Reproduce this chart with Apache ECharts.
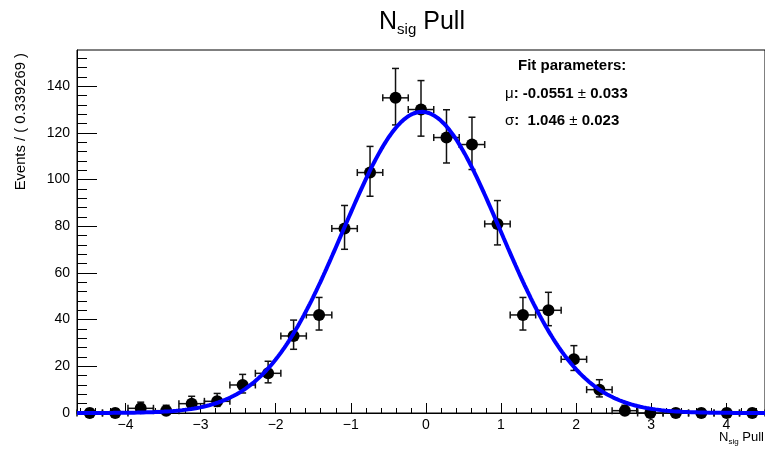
<!DOCTYPE html>
<html><head><meta charset="utf-8">
<script src="https://cdn.jsdelivr.net/npm/echarts@6/dist/echarts.min.js"></script>
<style>html,body{margin:0;padding:0;background:#fff}#c{width:765px;height:450px}</style>
</head><body><div id="c"></div>
<script>
// ---- data ----
const binWidth = 0.339269;
const binCenters = [-4.4754,-4.1362,-3.7969,-3.4576,-3.1184,-2.7791,-2.4398,-2.1006,-1.7613,-1.4220,-1.0828,-0.7435,-0.4042,-0.0650,0.2743,0.6136,0.9528,1.2921,1.6314,1.9706,2.3099,2.6492,2.9884,3.3277,3.6670,4.0062,4.3455];
const counts    = [0,0,2,1,4,5,12,17,33,42,79,103,135,130,118,115,81,42,44,23,10,1,0,0,0,0,0];
const errLow    = [0,0,1.29,0.83,1.91,2.16,3.42,4.08,5.71,6.46,8.87,10.15,11.6,11.4,10.9,10.7,9.0,6.46,6.6,4.77,3.11,0.83,0,0,0,0,0];
const errHigh   = [1.84,1.84,2.64,2.30,3.16,3.38,4.54,5.16,6.8,7.5,9.9,11.2,12.6,12.4,11.9,11.7,10.0,7.5,7.7,5.86,4.26,2.30,1.84,1.84,1.84,1.84,1.84];
// fit parameters (shown in the chart)
const fitMu = -0.0551, fitSigma = 1.046, fitEvents = 997;
const xRange = [-4.645, 4.515];
const yRange = [0, 155.5];
const xMajorTicks = [-4,-3,-2,-1,0,1,2,3,4];
const yMajorTicks = [0,20,40,60,80,100,120,140];
const titleParts = ['N','sig',' Pull'];
const yTitle = 'Events / ( 0.339269 )';
const fitLines = ['Fit parameters:', ['\u03bc', ': -0.0551 ', '\u00b1', ' 0.033'], ['\u03c3', ':  1.046 ', '\u00b1', ' 0.023']];

// ---- derived ----
const xMinor = [];
for (let k = -23; k <= 22; k++) { if (k % 5 !== 0) xMinor.push(+(k * 0.2).toFixed(2)); }
const yMinor = [];
for (let v = 0; v <= 152; v += 4) { if (v % 20 !== 0) yMinor.push(v); }

const points = binCenters.map((x, i) => [x, counts[i]]);
const errData = binCenters.map((x, i) => [x, counts[i], counts[i] - errLow[i], counts[i] + errHigh[i]]);
const curve = [];
for (let x = xRange[0]; x <= xRange[1] + 1e-9; x += 0.02) {
  const z = (x - fitMu) / fitSigma;
  curve.push([x, fitEvents * binWidth / (fitSigma * Math.sqrt(2 * Math.PI)) * Math.exp(-0.5 * z * z)]);
}

const FONT = 'Liberation Sans, Arial, Helvetica, sans-serif';
const chart = echarts.init(document.getElementById('c'), null, {renderer: 'canvas'});
const minusFmt = v => String(v).replace('-', '\u2212');

chart.setOption({
  animation: false,
  backgroundColor: '#fff',
  grid: {left: 77, top: 50, right: -1, bottom: 37, show: true, borderColor: '#000', borderWidth: 1, backgroundColor: 'transparent'},
  xAxis: [
    {type: 'value', min: xRange[0], max: xRange[1], position: 'bottom',
     axisLine: {onZero: false, lineStyle: {color: '#000', width: 1}},
     axisTick: {inside: true, length: 10, customValues: xMajorTicks, lineStyle: {color: '#000'}},
     axisLabel: {customValues: xMajorTicks, color: '#000', fontSize: 14, fontFamily: FONT, margin: 5, formatter: minusFmt},
     splitLine: {show: false}},
    {type: 'value', min: xRange[0], max: xRange[1], position: 'bottom',
     axisLine: {show: false, onZero: false},
     axisTick: {inside: true, length: 5, customValues: xMinor, lineStyle: {color: '#000'}},
     axisLabel: {show: false}, splitLine: {show: false}}
  ],
  yAxis: [
    {type: 'value', min: yRange[0], max: yRange[1], position: 'left',
     axisLine: {show: true, onZero: false, lineStyle: {color: '#000', width: 1}},
     axisTick: {show: true, inside: true, length: 20, customValues: yMajorTicks, lineStyle: {color: '#000'}},
     axisLabel: {customValues: yMajorTicks, color: '#000', fontSize: 14, fontFamily: FONT, margin: 7},
     splitLine: {show: false}},
    {type: 'value', min: yRange[0], max: yRange[1], position: 'left',
     axisLine: {show: false, onZero: false},
     axisTick: {show: true, inside: true, length: 10, customValues: yMinor, lineStyle: {color: '#000'}},
     axisLabel: {show: false}, splitLine: {show: false}}
  ],
  series: [
    {type: 'custom', xAxisIndex: 0, yAxisIndex: 0, data: errData, z: 2,
     renderItem: function (params, api) {
       const x = api.value(0), y = api.value(1), lo = api.value(2), hi = api.value(3);
       const c = api.coord([x, y]);
       const pLo = api.coord([x, lo]), pHi = api.coord([x, hi]);
       const pL = api.coord([x - binWidth / 2, y]), pR = api.coord([x + binWidth / 2, y]);
       const st = {stroke: '#111', lineWidth: 1.5};
       const cap = 3.5;
       const kids = [
         {type: 'line', shape: {x1: pL[0], y1: c[1], x2: pR[0], y2: c[1]}, style: st},
         {type: 'line', shape: {x1: pL[0], y1: c[1] - cap, x2: pL[0], y2: c[1] + cap}, style: st},
         {type: 'line', shape: {x1: pR[0], y1: c[1] - cap, x2: pR[0], y2: c[1] + cap}, style: st},
         {type: 'line', shape: {x1: c[0], y1: pLo[1], x2: c[0], y2: pHi[1]}, style: st},
         {type: 'line', shape: {x1: c[0] - cap, y1: pHi[1], x2: c[0] + cap, y2: pHi[1]}, style: st}
       ];
       if (lo < y) kids.push({type: 'line', shape: {x1: c[0] - cap, y1: pLo[1], x2: c[0] + cap, y2: pLo[1]}, style: st});
       return {type: 'group', children: kids};
     }},
    {type: 'scatter', xAxisIndex: 0, yAxisIndex: 0, data: points, symbol: 'circle', symbolSize: 12,
     itemStyle: {color: '#000', opacity: 1}, z: 3, silent: true},
    {type: 'line', xAxisIndex: 0, yAxisIndex: 0, data: curve, showSymbol: false, smooth: false,
     lineStyle: {color: '#0000ff', width: 4}, z: 4, silent: true, clip: true}
  ],
  graphic: [
    {type: 'text', x: 422, y: 24, style: {
      text: '{n|' + titleParts[0] + '}{s|' + titleParts[1] + '}{n|' + titleParts[2] + '}',
      align: 'center', verticalAlign: 'middle', fill: '#000',
      rich: {
        n: {fontSize: 25, fontFamily: FONT, fill: '#000', verticalAlign: 'top', lineHeight: 28},
        s: {fontSize: 15, fontFamily: FONT, fill: '#000', verticalAlign: 'top', lineHeight: 18, padding: [12, 0, 0, 0]}
      }}},
    {type: 'text', x: 764, y: 438, style: {
      text: '{n|' + titleParts[0] + '}{s|' + titleParts[1] + '}{n|' + titleParts[2] + '}',
      align: 'right', verticalAlign: 'middle', fill: '#000',
      rich: {
        n: {fontSize: 13, fontFamily: FONT, fill: '#000', verticalAlign: 'top', lineHeight: 15},
        s: {fontSize: 8, fontFamily: FONT, fill: '#000', verticalAlign: 'top', lineHeight: 10, padding: [7, 0, 0, 0]}
      }}},
    {type: 'text', x: 21, y: 53, rotation: Math.PI / 2, style: {
      text: yTitle, align: 'right', verticalAlign: 'middle', fill: '#000', fontSize: 14.8, fontFamily: FONT}},
    {type: 'text', x: 518, y: 66, style: {
      text: fitLines[0], align: 'left', verticalAlign: 'middle', fill: '#000', fontSize: 15, fontWeight: 'bold', fontFamily: FONT}},
    {type: 'text', x: 505, y: 94, style: {
      text: '{t|' + fitLines[1][0] + '}{b|' + fitLines[1][1] + '}{t|' + fitLines[1][2] + '}{b|' + fitLines[1][3] + '}',
      align: 'left', verticalAlign: 'middle',
      rich: {t: {fontSize: 15, fontFamily: FONT, fill: '#000'}, b: {fontSize: 15, fontWeight: 'bold', fontFamily: FONT, fill: '#000'}}}},
    {type: 'text', x: 505, y: 121, style: {
      text: '{t|' + fitLines[2][0] + '}{b|' + fitLines[2][1] + '}{t|' + fitLines[2][2] + '}{b|' + fitLines[2][3] + '}',
      align: 'left', verticalAlign: 'middle',
      rich: {t: {fontSize: 15, fontFamily: FONT, fill: '#000'}, b: {fontSize: 15, fontWeight: 'bold', fontFamily: FONT, fill: '#000'}}}}
  ]
});
</script></body></html>
